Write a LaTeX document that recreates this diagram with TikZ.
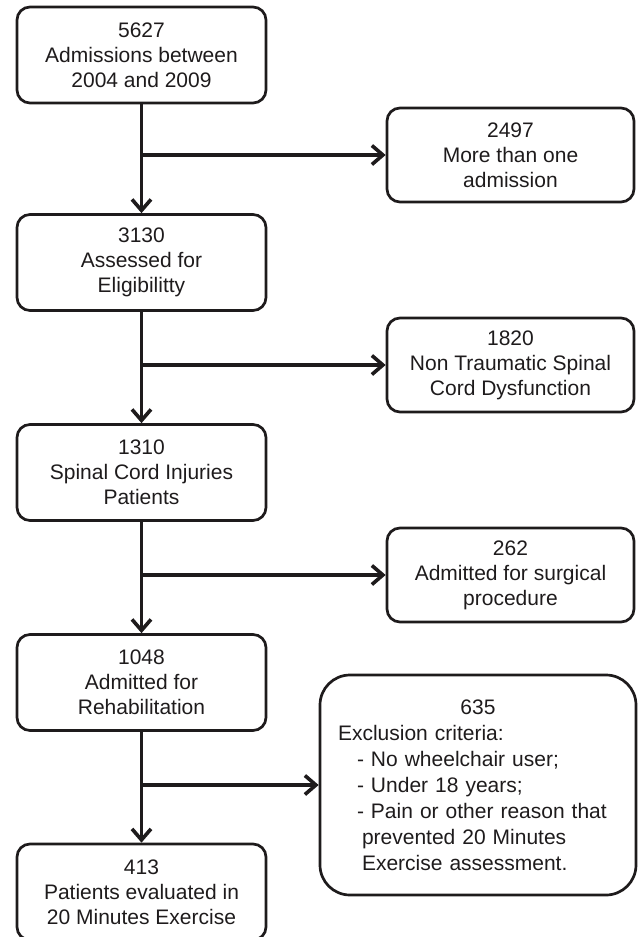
\documentclass[tikz,border=0pt]{standalone}
\usepackage{fontspec}
\setmainfont{Liberation Sans}
\usepackage{tikz}
\usetikzlibrary{arrows.meta}
\usetikzlibrary{positioning}
\definecolor{ink}{RGB}{30,27,28}
\tikzset{flowbox/.style = {draw=ink, line width=2.7pt, rounded corners=13pt, align=center,
                           minimum width=249pt, minimum height=96pt, inner sep=0pt,
                           text=ink, font=\fontsize{21}{25}\selectfont}}
\tikzset{sidebox/.style = {flowbox, minimum width=247pt, minimum height=94pt}}
\tikzset{flow/.style = {draw=ink, line width=3.6pt,
                        -{Straight Barb[length=11pt, width=19pt, line width=3.6pt]}}}

\begin{document}
\begin{tikzpicture}[x=1pt, y=-1pt]
    \useasboundingbox (0, 0) rectangle (639, 937);

    \node [flowbox] (admit) at (141.5, 55) {5627\\Admissions between\\2004 and 2009};
    \node [flowbox] (assess) at (141.5, 262.5) {3130\\Assessed for\\Eligibilitty};
    \node [flowbox] (injury) at (141.5, 472.5) {1310\\Spinal Cord Injuries\\Patients};
    \node [flowbox] (rehab) at (141.5, 682.5) {1048\\Admitted for\\Rehabilitation};
    \node [flowbox] (evaluated) at (141.5, 892) {413\\Patients evaluated in\\20 Minutes Exercise};

    \node [sidebox] (twice) at (510.5, 155) {2497\\More than one\\admission};
    \node [sidebox] (nontrauma) at (510.5, 365) {1820\\Non Traumatic Spinal\\Cord Dysfunction};
    \node [sidebox] (surgery) at (510.5, 575) {262\\Admitted for surgical\\procedure};
    \node [sidebox, rounded corners=30pt, minimum width=316pt, minimum height=220pt,
           text width=280pt, align=left, font=\fontsize{21}{26}\selectfont] (exclusion) at (478, 785)
        {\makebox[\linewidth]{635}\\
         Exclusion criteria:\\
         \hspace*{19pt}- No wheelchair user;\\
         \hspace*{19pt}- Under 18 years;\\
         \hspace*{19pt}- Pain or other reason that\\
         \hspace*{24pt}prevented 20 Minutes\\
         \hspace*{24pt}Exercise assessment.};

    \draw [flow] (admit) -- (assess);
    \draw [flow] (assess) -- (injury);
    \draw [flow] (injury) -- (rehab);
    \draw [flow] (rehab) -- (evaluated);

    \draw [flow] (admit.south |- twice) -- (twice);
    \draw [flow] (assess.south |- nontrauma) -- (nontrauma);
    \draw [flow] (injury.south |- surgery) -- (surgery);
    \draw [flow] (rehab.south |- exclusion) -- (exclusion);
  \end{tikzpicture}
\end{document}
